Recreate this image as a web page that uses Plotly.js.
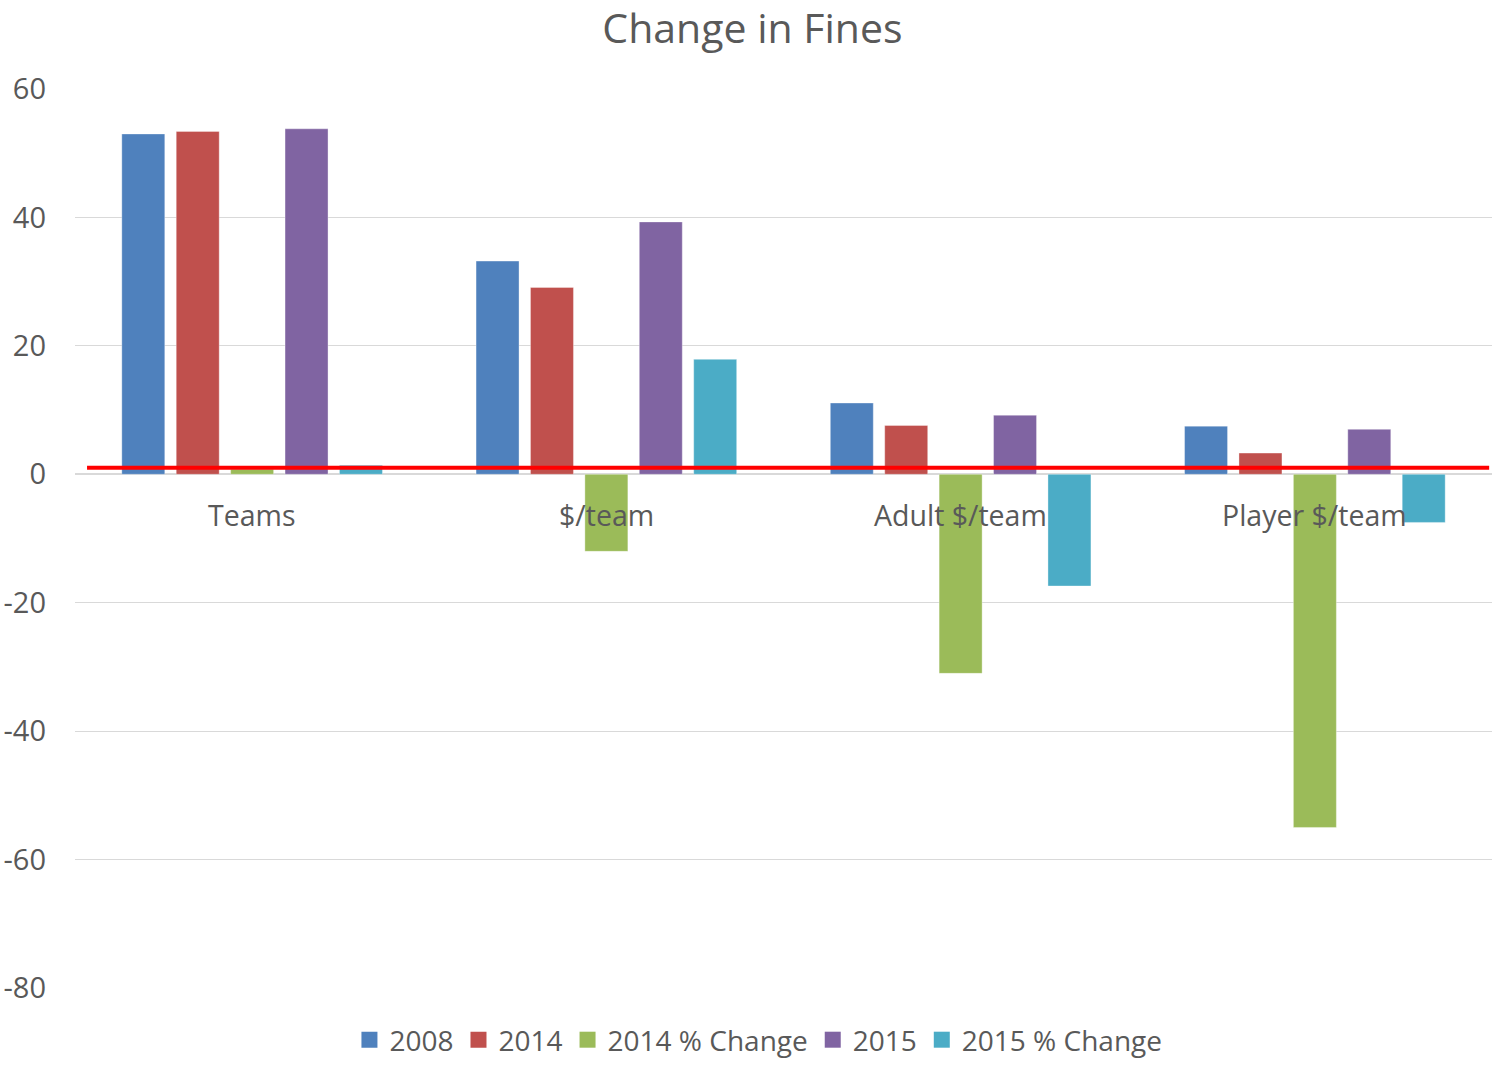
<!DOCTYPE html>
<html>
<head>
<meta charset="utf-8">
<script src="https://cdn.plot.ly/plotly-3.0.1.min.js"></script>
<style>html,body{margin:0;padding:0;background:#fff;}#chart{width:1493px;height:1065px;}</style>
</head>
<body>
<div id="chart"></div>
<script>
var categories = ["Teams", "$/team", "Adult $/team", "Player $/team"];
var seriesNames = ["2008", "2014", "2014 % Change", "2015", "2015 % Change"];
var values2008 = [53.0, 33.2, 11.1, 7.5];
var values2014 = [53.4, 29.1, 7.6, 3.3];
var values2014Change = [0.8, -12.0, -31.0, -55.0];
var values2015 = [53.8, 39.3, 9.2, 7.0];
var values2015Change = [1.4, 17.9, -17.4, -7.5];
var colors = ["#4F81BD", "#C0504D", "#9BBB59", "#8064A2", "#4BACC6"];
var referenceLineValue = 1.0;
var yTicks = [-80, -60, -40, -20, 0, 20, 40, 60];

var allSeries = [values2008, values2014, values2014Change, values2015, values2015Change];
var font = "'Open Sans', 'Noto Sans', sans-serif";
var textColor = "#595959";

var traces = allSeries.map(function (vals, i) {
  return {
    type: "bar",
    name: seriesNames[i],
    legendgroup: seriesNames[i],
    showlegend: false,
    x: categories,
    y: vals,
    marker: { color: colors[i], line: { color: "rgba(255,255,255,0.35)", width: 1 } },
    hoverinfo: "x+y+name"
  };
});

// legend entries with larger square swatches (no visible data points)
seriesNames.forEach(function (n, i) {
  traces.push({
    type: "scatter",
    mode: "markers",
    name: n,
    legendgroup: n,
    showlegend: true,
    x: [categories[0]],
    y: [null],
    marker: { color: colors[i], symbol: "square", size: 18 },
    hoverinfo: "skip"
  });
});

var annotations = categories.map(function (c) {
  return {
    x: c, y: 0, xref: "x", yref: "y",
    text: c, showarrow: false,
    yanchor: "middle", yshift: -41,
    font: { family: font, size: 28.5, color: textColor }
  };
});

var layout = {
  width: 1493, height: 1065,
  paper_bgcolor: "#ffffff", plot_bgcolor: "#ffffff",
  margin: { l: 75, r: 1, t: 89, b: 77 },
  title: {
    text: "Change in Fines",
    xref: "container", x: 0.504, xanchor: "center",
    yref: "container", y: 0.9735, yanchor: "middle",
    font: { family: font, size: 41, color: textColor }
  },
  barmode: "group",
  bargap: 0.232,
  bargroupgap: 0.21,
  xaxis: {
    type: "category",
    showticklabels: false,
    showgrid: false,
    showline: false,
    zeroline: false,
    ticks: ""
  },
  yaxis: {
    range: [-80, 60],
    tickvals: yTicks,
    ticktext: yTicks.map(String),
    showgrid: true,
    gridcolor: "#D9D9D9",
    gridwidth: 1,
    zeroline: true,
    zerolinecolor: "#D9D9D9",
    zerolinewidth: 2,
    showline: false,
    ticks: "",
    ticklabelstandoff: 28,
    tickfont: { family: font, size: 29, color: textColor }
  },
  legend: {
    orientation: "h",
    xref: "container", x: 0.508, xanchor: "center",
    yref: "container", y: -0.004, yanchor: "bottom",
    font: { family: font, size: 28, color: textColor },
    itemwidth: 30,
    tracegroupgap: 0
  },
  annotations: annotations,
  shapes: [{
    type: "line", xref: "paper", yref: "y",
    x0: 0.0085, x1: 0.998,
    y0: referenceLineValue, y1: referenceLineValue,
    line: { color: "#FF0000", width: 4 }
  }]
};

Plotly.newPlot("chart", traces, layout, { displayModeBar: false, responsive: false });
</script>
</body>
</html>
